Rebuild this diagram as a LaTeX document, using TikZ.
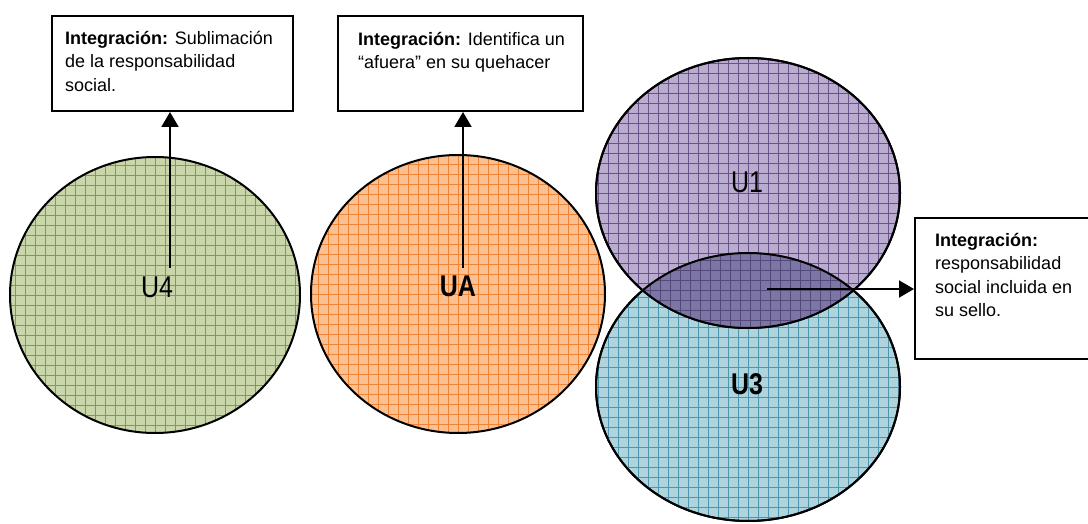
\documentclass[tikz,border=0pt]{standalone}
\usepackage{fontspec}
\setmainfont{Liberation Sans}
\usetikzlibrary{shapes.geometric,arrows.meta}

\definecolor{greenbase}{RGB}{200,214,170}
\definecolor{greenline}{RGB}{128,154,78}
\definecolor{orangebase}{RGB}{250,192,146}
\definecolor{orangeline}{RGB}{240,132,52}
\definecolor{purplebase}{RGB}{186,172,206}
\definecolor{purpleline}{RGB}{104,84,138}
\definecolor{tealbase}{RGB}{176,212,222}
\definecolor{tealline}{RGB}{74,152,176}
\definecolor{mixbase}{RGB}{124,118,164}
\definecolor{mixline}{RGB}{82,72,122}

\tikzset{
  blob/.style n args={2}{ellipse, draw=black, line width=2pt, inner sep=0pt,
    fill=#1,
    path picture={\draw[#2, line width=0.8pt, step=10pt]
      ([shift={(-10pt,-10pt)}]path picture bounding box.south west) grid
      ([shift={(10pt,10pt)}]path picture bounding box.north east);}},
  infobox/.style={draw=black, line width=2pt, fill=white, inner sep=0pt, anchor=north west},
  infotext/.style={anchor=north west, inner sep=0pt, align=left,
    font=\fontsize{18}{23.5}\selectfont},
  biglabel/.style={font=\fontsize{25}{28}\selectfont},
  arr/.style={line width=2pt, -{Triangle[length=15pt,width=17pt]}}
}

\begin{document}
\begin{tikzpicture}[x=1pt,y=-1pt]
\useasboundingbox (0,0) rectangle (1088,524);

% circles
\node[blob={greenbase}{greenline}, minimum width=290pt, minimum height=276pt] (u4) at (155,295) {};
\node[blob={orangebase}{orangeline}, minimum width=294pt, minimum height=278pt] (ua) at (458,294) {};
\node[blob={tealbase}{tealline}, minimum width=304pt, minimum height=268pt] (u3) at (748,387) {};
\node[blob={purplebase}{purpleline}, minimum width=304pt, minimum height=270pt] (u1) at (748,193) {};

% shared region of U1 and U3
\begin{scope}
  \clip (u3.center) ellipse [x radius=152pt, y radius=134pt];
  \fill[mixbase] (u1.center) ellipse [x radius=152pt, y radius=135pt];
  \clip (u1.center) ellipse [x radius=152pt, y radius=135pt];
  \draw[mixline, line width=0.8pt, step=10pt] (580,230) grid (920,350);
\end{scope}
\draw[line width=2pt] (u1.center) ellipse [x radius=152pt, y radius=135pt];
\draw[line width=2pt] (u3.center) ellipse [x radius=152pt, y radius=134pt];

% circle labels
\node[biglabel] (l4) at (157,287) {\scalebox{1}[1.2]{U4}};
\node[biglabel] (la) at (458,286) {\scalebox{1}[1.2]{\textbf{UA}}};
\node[biglabel] (l1) at (747,182) {\scalebox{1}[1.2]{U1}};
\node[biglabel] (l3) at (747,384) {\scalebox{1}[1.2]{\textbf{U3}}};

% boxes
\node[infobox, minimum width=241pt, minimum height=95pt] (b4) at (51,15) {};
\node[infotext] (t4) at (65,31) {\textbf{Integración:} Sublimación\\de la responsabilidad\\social.};
\node[infobox, minimum width=245pt, minimum height=95pt] (ba) at (337,15) {};
\node[infotext] (ta) at (358,32) {\textbf{Integración:} Identifica un\\“afuera” en su quehacer};
\node[infobox, minimum width=190pt, minimum height=141pt] (b3) at (914,217) {};
\node[infotext] (t3) at (935,233) {\textbf{Integración:}\\responsabilidad\\social incluida en\\su sello.};

% connectors
\coordinate (s4) at (170,268);
\coordinate (sa) at (463,268);
\coordinate (s3) at (767,289);
\draw[arr] (s4) -- (s4 |- b4.south);
\draw[arr] (sa) -- (sa |- ba.south);
\draw[arr] (s3) -- (s3 -| b3.west);
\end{tikzpicture}
\end{document}
